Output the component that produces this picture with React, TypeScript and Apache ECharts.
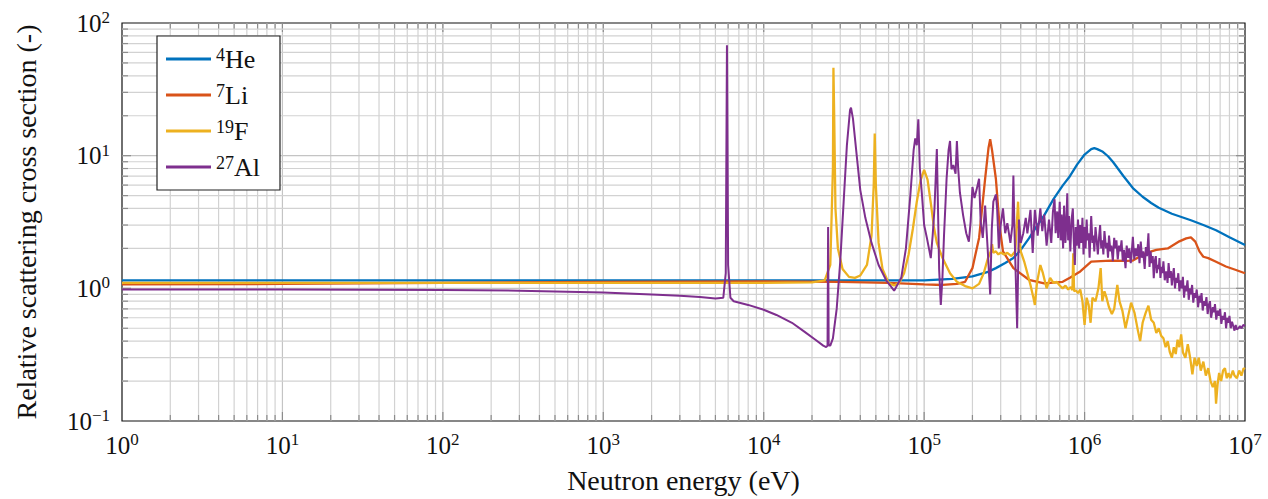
import React, { useEffect, useRef } from 'react';
import * as echarts from 'echarts';

const X_MIN = 1;
const X_MAX = 1e7;
const Y_MIN = 0.1;
const Y_MAX = 100;

const seriesNames = ['4He', '7Li', '19F', '27Al'];
const seriesColors = ['#0072BD', '#D95319', '#EDB120', '#7E2F8E'];

const heData: number[][] = [
  [1, 1.15], [1e4, 1.15], [5e4, 1.15], [1e5, 1.15], [1.5e5, 1.18], [2e5, 1.23], [2.5e5, 1.33],
  [2.8e5, 1.42], [3.2e5, 1.55], [3.6e5, 1.69], [4e5, 1.95], [4.5e5, 2.38], [5e5, 2.9], [5.6e5, 3.55],
  [6.4e5, 4.7], [7.3e5, 5.95], [8.1e5, 7.0], [9e5, 8.6], [1e6, 10.2], [1.1e6, 11.2], [1.15e6, 11.4],
  [1.2e6, 11.2], [1.3e6, 10.7], [1.4e6, 9.9], [1.5e6, 9.0], [1.6e6, 8.1], [1.75e6, 7.0], [2e6, 5.7],
  [2.3e6, 4.9], [2.6e6, 4.4], [2.9e6, 4.05], [3.5e6, 3.65], [4.6e6, 3.26], [5.5e6, 3.0], [6.6e6, 2.74],
  [8e6, 2.43], [1e7, 2.12],
];

const liData: number[][] = [
  [1, 1.07], [10, 1.08], [100, 1.1], [1e3, 1.12], [1e4, 1.13], [3e4, 1.12], [6e4, 1.1], [1e5, 1.07],
  [1.3e5, 1.06], [1.6e5, 1.08], [1.8e5, 1.12], [2.0e5, 1.42], [2.2e5, 2.4], [2.4e5, 6.7], [2.52e5, 11.5],
  [2.58e5, 13.3], [2.65e5, 11], [2.8e5, 6.7], [2.95e5, 3.0], [3.1e5, 1.9], [3.6e5, 1.42], [4.5e5, 1.16],
  [5.6e5, 1.09], [7.3e5, 1.12], [8.1e5, 1.2], [9.4e5, 1.34], [1.1e6, 1.59], [1.45e6, 1.62], [1.8e6, 1.61],
  [2.0e6, 1.62], [2.4e6, 1.84], [2.8e6, 1.95], [3.3e6, 2.0], [3.9e6, 2.26], [4.3e6, 2.38], [4.6e6, 2.42],
  [4.9e6, 2.25], [5.2e6, 1.9], [5.5e6, 1.73], [5.9e6, 1.69], [6.5e6, 1.6], [7.6e6, 1.46], [8.7e6, 1.38],
  [1e7, 1.3],
];

const fData: number[][] = [
  [1, 1.1], [1e3, 1.1], [1e4, 1.1], [2e4, 1.11], [2.4e4, 1.15], [2.6e4, 1.5], [2.7e4, 8], [2.72e4, 46],
  [2.75e4, 20], [2.8e4, 4], [2.9e4, 2.0], [3.1e4, 1.4], [3.4e4, 1.22], [3.7e4, 1.2], [4e4, 1.25],
  [4.4e4, 1.5], [4.7e4, 2.5], [4.85e4, 6], [4.92e4, 14.7], [5.0e4, 6], [5.2e4, 2.2], [5.5e4, 1.4],
  [6e4, 1.1], [6.5e4, 1.05], [7e4, 1.1], [7.5e4, 1.3], [8e4, 1.8], [8.5e4, 2.8], [9e4, 4.5],
  [9.5e4, 6.5], [1e5, 7.8], [1.05e5, 6.6], [1.1e5, 4.4], [1.15e5, 2.9], [1.2e5, 2.2], [1.3e5, 1.7],
  [1.45e5, 1.3], [1.6e5, 1.12], [1.8e5, 1.04], [2.0e5, 1.0], [2.2e5, 1.08], [2.35e5, 1.3], [2.5e5, 1.69],
  [2.6e5, 1.9], [2.65e5, 2.15], [2.7e5, 1.85], [2.8e5, 1.9], [2.9e5, 1.8], [3.0e5, 1.86], [3.15e5, 1.8],
  [3.3e5, 1.85], [3.5e5, 1.75], [3.7e5, 1.9], [3.85e5, 4.5], [3.92e5, 2.4], [4.0e5, 1.9], [4.2e5, 1.6],
  [4.4e5, 1.3], [4.6e5, 1.06], [4.8e5, 0.85], [4.9e5, 0.75], [5.05e5, 1.1], [5.3e5, 1.5], [5.5e5, 1.3],
  [5.8e5, 1.0], [6.1e5, 1.2], [6.4e5, 1.1], [6.7e5, 1.12], [7.0e5, 1.05], [7.3e5, 1.0], [7.6e5, 1.05],
  [7.9e5, 0.98], [8.2e5, 1.02], [8.4e5, 0.97], [8.5e5, 1.84], [8.6e5, 0.95], [8.8e5, 0.97], [9.1e5, 0.92],
  [9.4e5, 0.98], [9.7e5, 0.8], [1.0e6, 0.53], [1.03e6, 0.85], [1.06e6, 0.75], [1.09e6, 0.55],
  [1.12e6, 0.85], [1.17e6, 0.8], [1.22e6, 1.0], [1.26e6, 1.42], [1.29e6, 0.8], [1.33e6, 0.95],
  [1.37e6, 0.85], [1.42e6, 0.72], [1.48e6, 0.64], [1.53e6, 0.7], [1.6e6, 1.06], [1.65e6, 0.8],
  [1.72e6, 0.68], [1.8e6, 0.5], [1.87e6, 0.62], [1.95e6, 0.78], [2.05e6, 0.65], [2.15e6, 0.48],
  [2.22e6, 0.4], [2.3e6, 0.55], [2.4e6, 0.65], [2.5e6, 0.74], [2.6e6, 0.58], [2.7e6, 0.55], [2.8e6, 0.46],
  [2.9e6, 0.5], [3.0e6, 0.44], [3.1e6, 0.42], [3.2e6, 0.36], [3.3e6, 0.4], [3.4e6, 0.33], [3.5e6, 0.3],
  [3.6e6, 0.36], [3.7e6, 0.32], [3.8e6, 0.41], [3.9e6, 0.36], [4.0e6, 0.45], [4.1e6, 0.33], [4.25e6, 0.3],
  [4.4e6, 0.38], [4.55e6, 0.3], [4.7e6, 0.225], [4.85e6, 0.3], [5.0e6, 0.26], [5.15e6, 0.3], [5.3e6, 0.24],
  [5.5e6, 0.28], [5.7e6, 0.22], [5.9e6, 0.25], [6.1e6, 0.2], [6.3e6, 0.18], [6.5e6, 0.2], [6.6e6, 0.135],
  [6.75e6, 0.19], [6.9e6, 0.23], [7.1e6, 0.2], [7.3e6, 0.24], [7.5e6, 0.25], [7.7e6, 0.21], [7.9e6, 0.23],
  [8.1e6, 0.21], [8.4e6, 0.24], [8.6e6, 0.22], [8.9e6, 0.21], [9.2e6, 0.24], [9.5e6, 0.22], [9.8e6, 0.25],
  [1e7, 0.246],
];

const alData: number[][] = [
  [1, 0.98], [10, 0.98], [100, 0.97], [300, 0.96], [1e3, 0.93], [2e3, 0.9], [3e3, 0.88], [4e3, 0.86],
  [5e3, 0.84], [5.6e3, 0.85], [5.8e3, 1.3], [5.9e3, 68], [6.0e3, 1.5], [6.2e3, 0.85], [6.5e3, 0.8],
  [8e3, 0.75], [1e4, 0.69], [1.2e4, 0.63], [1.5e4, 0.55], [1.8e4, 0.47], [2.1e4, 0.41], [2.35e4, 0.37],
  [2.45e4, 0.36], [2.5e4, 0.37], [2.52e4, 2.9], [2.54e4, 0.37], [2.6e4, 0.37], [2.7e4, 0.42],
  [2.85e4, 0.7], [3e4, 1.6], [3.15e4, 4.5], [3.3e4, 12], [3.45e4, 22], [3.5e4, 23], [3.6e4, 19],
  [3.8e4, 10], [4e4, 5.5], [4.3e4, 3.4], [4.7e4, 2.2], [5.2e4, 1.5], [5.8e4, 1.15], [6.5e4, 0.96],
  [7.2e4, 1.2], [7.7e4, 2], [8.2e4, 5], [8.6e4, 11], [8.8e4, 13.5], [9.0e4, 12], [9.2e4, 18.8],
  [9.4e4, 8], [9.7e4, 5], [1.0e5, 3], [1.04e5, 2.4], [1.08e5, 1.9], [1.1e5, 1.69], [1.13e5, 2.5],
  [1.16e5, 4], [1.2e5, 11.2], [1.22e5, 4], [1.24e5, 1.4], [1.27e5, 0.75], [1.3e5, 1.2], [1.33e5, 2.5],
  [1.36e5, 4.5], [1.38e5, 6.7], [1.42e5, 11], [1.45e5, 12.9], [1.48e5, 7.9], [1.52e5, 8.5], [1.57e5, 7.3],
  [1.6e5, 12.9], [1.63e5, 8], [1.67e5, 5.3], [1.75e5, 3.55], [1.83e5, 2.6], [1.9e5, 2.25], [1.95e5, 3.2],
  [2.0e5, 5.8], [2.06e5, 4.8], [2.12e5, 5.5], [2.2e5, 6.7], [2.25e5, 3.2], [2.32e5, 2.4], [2.4e5, 4.2],
  [2.5e5, 1.8], [2.58e5, 0.9], [2.64e5, 2.8], [2.7e5, 4.5], [2.8e5, 5.1], [2.85e5, 4.0], [2.92e5, 2.0],
  [3.0e5, 3.0], [3.1e5, 4.0], [3.2e5, 2.6], [3.3e5, 3.1], [3.45e5, 2.2], [3.55e5, 3.0], [3.6e5, 7.1],
  [3.65e5, 3.0], [3.8e5, 0.5], [3.9e5, 3.3], [4.0e5, 2.2], [4.15e5, 2.6], [4.3e5, 3.4], [4.4e5, 2.6],
  [4.6e5, 3.9], [4.75e5, 1.85], [4.9e5, 3.9], [5.1e5, 2.5], [5.3e5, 4.0], [5.45e5, 2.7], [5.6e5, 3.6],
  [5.8e5, 2.1], [6.0e5, 3.3], [6.2e5, 2.2], [6.35e5, 3.8], [6.5e5, 4.7], [6.6e5, 2.6], [6.75e5, 3.8],
  [6.85e5, 2.4], [7.0e5, 4.5], [7.1e5, 2.3], [7.2e5, 3.6], [7.35e5, 2.0], [7.45e5, 4.2], [7.6e5, 2.2],
  [7.7e5, 3.2], [7.8e5, 5.2], [7.9e5, 2.3], [8.0e5, 3.5], [8.15e5, 1.9], [8.3e5, 3.3], [8.45e5, 4.0],
  [8.55e5, 2.4], [8.7e5, 1.5], [8.8e5, 2.9], [8.95e5, 2.1], [9.1e5, 3.3], [9.25e5, 2.0], [9.4e5, 3.0],
  [9.55e5, 2.2], [9.7e5, 3.4], [9.85e5, 1.8], [1.0e6, 2.9], [1.015e6, 2.0], [1.03e6, 3.3], [1.045e6, 2.3],
  [1.06e6, 2.6], [1.075e6, 1.7], [1.09e6, 2.7], [1.1e6, 3.5], [1.12e6, 2.2], [1.135e6, 2.5], [1.15e6, 1.9],
  [1.17e6, 2.9], [1.19e6, 2.3], [1.21e6, 1.8], [1.23e6, 2.4], [1.25e6, 3.0], [1.27e6, 2.0], [1.29e6, 2.3],
  [1.31e6, 1.8], [1.33e6, 2.7], [1.36e6, 2.0], [1.38e6, 2.2], [1.4e6, 1.7], [1.42e6, 2.5], [1.45e6, 1.9],
  [1.47e6, 2.1], [1.5e6, 1.6], [1.53e6, 2.4], [1.55e6, 2.0], [1.58e6, 2.3], [1.61e6, 1.65], [1.64e6, 2.1],
  [1.67e6, 1.9], [1.7e6, 2.3], [1.73e6, 1.6], [1.76e6, 1.95], [1.8e6, 1.42], [1.83e6, 2.1], [1.87e6, 1.7],
  [1.9e6, 2.0], [1.94e6, 1.55], [1.97e6, 1.9], [2.0e6, 2.45], [2.04e6, 1.65], [2.08e6, 2.0], [2.12e6, 1.75],
  [2.16e6, 2.15], [2.2e6, 1.55], [2.24e6, 2.25], [2.28e6, 1.7], [2.32e6, 1.9], [2.37e6, 1.4], [2.41e6, 2.05],
  [2.45e6, 1.75], [2.5e6, 2.6], [2.54e6, 1.45], [2.58e6, 1.9], [2.62e6, 1.55], [2.66e6, 1.75], [2.7e6, 1.19],
  [2.74e6, 1.6], [2.78e6, 1.75], [2.82e6, 1.3], [2.86e6, 1.5], [2.9e6, 1.4], [2.93e6, 1.69], [2.97e6, 1.2],
  [3.02e6, 1.45], [3.06e6, 1.3], [3.1e6, 1.6], [3.16e6, 1.15], [3.2e6, 1.3], [3.24e6, 1.34], [3.29e6, 1.1],
  [3.34e6, 1.55], [3.4e6, 1.2], [3.45e6, 1.35], [3.5e6, 1.05], [3.55e6, 1.25], [3.6e6, 1.42], [3.66e6, 1.0],
  [3.72e6, 1.2], [3.78e6, 1.1], [3.84e6, 1.3], [3.9e6, 0.95], [3.97e6, 1.15], [4.04e6, 1.0], [4.1e6, 1.22],
  [4.17e6, 0.85], [4.24e6, 1.05], [4.3e6, 0.95], [4.38e6, 1.15], [4.46e6, 0.82], [4.54e6, 1.0], [4.6e6, 0.9],
  [4.68e6, 1.06], [4.76e6, 0.78], [4.84e6, 0.92], [4.92e6, 0.85], [5.0e6, 0.98], [5.1e6, 0.72], [5.2e6, 0.88],
  [5.28e6, 0.78], [5.36e6, 0.92], [5.45e6, 0.68], [5.55e6, 0.8], [5.65e6, 0.74], [5.75e6, 0.86], [5.85e6, 0.64],
  [5.95e6, 0.75], [6.05e6, 0.8], [6.15e6, 0.6], [6.3e6, 0.72], [6.4e6, 0.66], [6.5e6, 0.76], [6.62e6, 0.58],
  [6.75e6, 0.68], [6.88e6, 0.62], [7.0e6, 0.7], [7.12e6, 0.54], [7.25e6, 0.62], [7.38e6, 0.58], [7.5e6, 0.66],
  [7.62e6, 0.5], [7.75e6, 0.6], [7.88e6, 0.55], [8.0e6, 0.62], [8.15e6, 0.5], [8.3e6, 0.56], [8.45e6, 0.52],
  [8.6e6, 0.48], [8.75e6, 0.53], [8.9e6, 0.49], [9.1e6, 0.5], [9.3e6, 0.52], [9.5e6, 0.5], [9.75e6, 0.53],
  [1e7, 0.52],
];

const seriesData = [heData, liData, fData, alData];
const seriesWidths = [2.3, 2.3, 2.3, 2];

const FONT = '"Liberation Serif", "Times New Roman", serif';
const TEXT_COLOR = '#111';

function buildGridLines(min: number, max: number): number[][] {
  // [value, isMajor]
  const out: number[][] = [];
  const d0 = Math.round(Math.log10(min));
  const d1 = Math.round(Math.log10(max));
  for (let d = d0; d <= d1; d++) {
    const base = Math.pow(10, d);
    if (d > d0 && d < d1) out.push([base, 1]);
    if (d < d1) {
      for (let m = 2; m <= 9; m++) out.push([m * base, 0]);
    }
  }
  return out;
}

const richLabel = {
  b: { fontFamily: FONT, fontSize: 25, color: TEXT_COLOR, lineHeight: 28 },
  s: { fontFamily: FONT, fontSize: 17, color: TEXT_COLOR, lineHeight: 17, verticalAlign: 'top' as const },
};

function expLabel(v: number): string {
  const e = Math.round(Math.log10(v));
  const es = e < 0 ? '\u2212' + String(-e) : String(e);
  return `{b|10}{s|${es}}`;
}

const GRID_MAJOR = '#c4c4c4';
const GRID_MINOR = '#d2d2d2';
const TICK = '#8c8c8c';

export default function App() {
  const ref = useRef<HTMLDivElement>(null);
  useEffect(() => {
    if (!ref.current) return;
    const chart = echarts.init(ref.current, undefined, { renderer: 'svg' });

    const vLines = buildGridLines(X_MIN, X_MAX).map(([v, m]) => [v, 1, m]);
    const hLines = buildGridLines(Y_MIN, Y_MAX).map(([v, m]) => [1, v, m]);

    const gridSeries = [
      {
        type: 'custom',
        silent: true,
        z: 1,
        data: vLines,
        encode: { x: 0, y: 1 },
        renderItem: (_p: any, api: any) => {
          const v = api.value(0);
          const major = api.value(2) === 1;
          const b = api.coord([v, Y_MIN]);
          const t = api.coord([v, Y_MAX]);
          const x = b[0];
          const tl = major ? 9 : 6;
          return {
            type: 'group',
            children: [
              { type: 'line', shape: { x1: x, y1: b[1], x2: x, y2: t[1] }, style: { stroke: major ? GRID_MAJOR : GRID_MINOR, lineWidth: 1.2 } },
              { type: 'line', shape: { x1: x, y1: b[1], x2: x, y2: b[1] - tl }, style: { stroke: TICK, lineWidth: 1.2 } },
              { type: 'line', shape: { x1: x, y1: t[1], x2: x, y2: t[1] + tl }, style: { stroke: TICK, lineWidth: 1.2 } },
            ],
          };
        },
      },
      {
        type: 'custom',
        silent: true,
        z: 1,
        data: hLines,
        encode: { x: 0, y: 1 },
        renderItem: (_p: any, api: any) => {
          const v = api.value(1);
          const major = api.value(2) === 1;
          const l = api.coord([X_MIN, v]);
          const r = api.coord([X_MAX, v]);
          const y = l[1];
          const tl = major ? 9 : 6;
          return {
            type: 'group',
            children: [
              { type: 'line', shape: { x1: l[0], y1: y, x2: r[0], y2: y }, style: { stroke: major ? GRID_MAJOR : GRID_MINOR, lineWidth: 1.2 } },
              { type: 'line', shape: { x1: l[0], y1: y, x2: l[0] + tl, y2: y }, style: { stroke: TICK, lineWidth: 1.2 } },
              { type: 'line', shape: { x1: r[0], y1: y, x2: r[0] - tl, y2: y }, style: { stroke: TICK, lineWidth: 1.2 } },
            ],
          };
        },
      },
    ];

    const lineSeries = seriesNames.map((name, i) => ({
      name,
      type: 'line',
      data: seriesData[i],
      symbol: 'none',
      showSymbol: false,
      z: 3 + i,
      color: seriesColors[i],
      lineStyle: { color: seriesColors[i], width: seriesWidths[i] },
    }));

    chart.setOption({
      animation: false,
      backgroundColor: '#fff',
      grid: {
        left: 122,
        top: 23,
        right: 23,
        bottom: 75,
        show: true,
        borderColor: '#111',
        borderWidth: 1.2,
        backgroundColor: 'transparent',
      },
      legend: {
        data: seriesNames,
        orient: 'vertical',
        left: 157,
        top: 36,
        padding: [10, 20, 10, 9],
        itemGap: 10,
        itemWidth: 45,
        itemHeight: 3,
        icon: 'rect',
        borderColor: '#222',
        borderWidth: 1.2,
        backgroundColor: '#fff',
        borderRadius: 0,
        z: 10,
        formatter: (name: string) => {
          const m = name.match(/^(\d+)(.*)$/);
          if (!m) return name;
          return `{s|${m[1]}}{b|${m[2]}}`;
        },
        textStyle: {
          fontFamily: FONT,
          fontSize: 26,
          color: TEXT_COLOR,
          rich: {
            b: { fontFamily: FONT, fontSize: 26, color: TEXT_COLOR, lineHeight: 26 },
            s: { fontFamily: FONT, fontSize: 18, color: TEXT_COLOR, lineHeight: 18, verticalAlign: 'top' },
          },
        },
      },
      xAxis: {
        type: 'log',
        logBase: 10,
        min: X_MIN,
        max: X_MAX,
        name: 'Neutron energy (eV)',
        nameLocation: 'middle',
        nameGap: 45,
        nameTextStyle: { fontFamily: FONT, fontSize: 28, color: TEXT_COLOR },
        axisLine: { show: false },
        axisTick: { show: false },
        splitLine: { show: false },
        axisLabel: {
          margin: 10,
          showMinLabel: true,
          showMaxLabel: true,
          formatter: expLabel,
          rich: richLabel,
        },
      },
      yAxis: {
        type: 'log',
        logBase: 10,
        min: Y_MIN,
        max: Y_MAX,
        name: 'Relative scattering cross section (-)',
        nameLocation: 'middle',
        nameGap: 82,
        nameRotate: 90,
        nameTextStyle: { fontFamily: FONT, fontSize: 28, color: TEXT_COLOR },
        axisLine: { show: false },
        axisTick: { show: false },
        splitLine: { show: false },
        axisLabel: {
          margin: 12,
          showMinLabel: true,
          showMaxLabel: true,
          formatter: expLabel,
          rich: richLabel,
        },
      },
      series: [...gridSeries, ...lineSeries],
    });

    return () => {
      chart.dispose();
    };
  }, []);

  return (
    <div
      ref={ref}
      style={{ position: 'fixed', left: 0, top: 0, width: 1268, height: 499, background: '#fff' }}
    />
  );
}
